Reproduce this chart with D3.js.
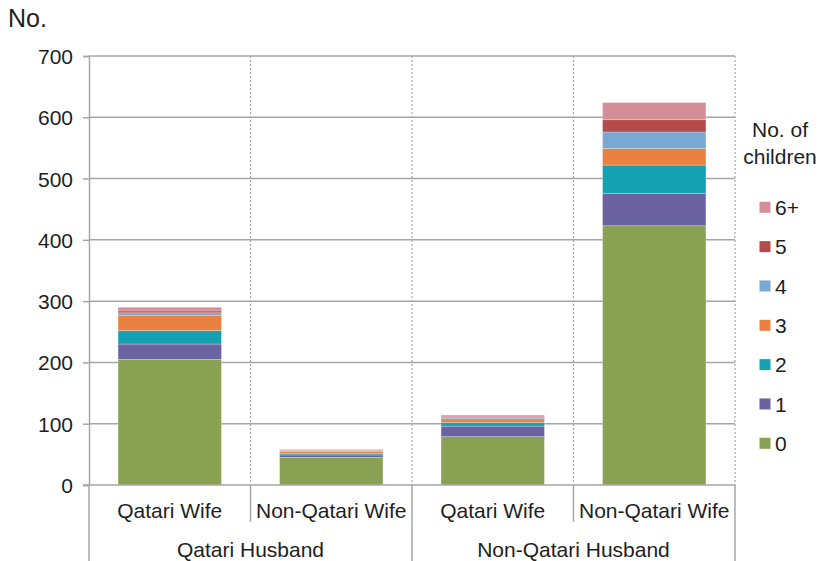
<!DOCTYPE html>
<html>
<head>
<meta charset="utf-8">
<script src="https://cdn.jsdelivr.net/npm/d3@7"></script>
<style>
  html, body { margin: 0; padding: 0; background: #fff; }
  text { font-family: "Liberation Sans", Arial, sans-serif; fill: #1e1e1e; }
</style>
</head>
<body>
<svg id="chart" width="820" height="561"></svg>
<script>
// ---- Data ----
const husbands = ["Qatari Husband", "Non-Qatari Husband"];
const wives = ["Qatari Wife", "Non-Qatari Wife"];
const categories = ["QH-QW", "QH-NQW", "NQH-QW", "NQH-NQW"];
const categoryLabels = ["Qatari Wife", "Non-Qatari Wife", "Qatari Wife", "Non-Qatari Wife"];
const seriesNames = ["0", "1", "2", "3", "4", "5", "6+"];
const children0 = [205, 45, 79, 423];
const children1 = [25, 4, 17, 53];
const children2 = [22, 2, 6, 46];
const children3 = [25, 4, 6, 27];
const children4 = [4, 1, 2, 27];
const children5 = [3, 1, 1, 20];
const children6plus = [6, 1, 3, 28];
const yTicks = [0, 100, 200, 300, 400, 500, 600, 700];
const colors = ["#89a153", "#6a639f", "#14a1b2", "#e98141", "#7ba7d3", "#b54c4b", "#d48e97"];

const seriesValues = [children0, children1, children2, children3, children4, children5, children6plus];
const table = categories.map((c, i) => {
  const row = { cat: c };
  seriesNames.forEach((s, j) => row[s] = seriesValues[j][i]);
  return row;
});

// ---- Layout ----
const svg = d3.select("#chart");
const pLeft = 89, pRight = 735, pTop = 56, pBottom = 485;
const fs = "21px";
const x = d3.scaleBand().domain(categories).range([pLeft, pRight]).paddingInner(0.36).paddingOuter(0.18);
const xb = d3.scaleBand().domain(categories).range([pLeft, pRight]).padding(0);
const y = d3.scaleLinear().domain([0, 700]).range([pBottom, pTop]);
const grey = "#a6a6a6";

// gridlines
svg.append("g").selectAll("line").data(yTicks.filter(t => t > 0)).join("line")
  .attr("x1", pLeft).attr("x2", pRight)
  .attr("y1", d => y(d)).attr("y2", d => y(d))
  .attr("stroke", grey).attr("stroke-width", 1.5);

// dotted vertical separators inside plot
const bounds = categories.slice(1).map(c => xb(c)).concat([pRight]);
svg.append("g").selectAll("line").data(bounds).join("line")
  .attr("x1", d => d).attr("x2", d => d)
  .attr("y1", pTop).attr("y2", pBottom)
  .attr("stroke", grey).attr("stroke-width", 1.2).attr("stroke-dasharray", "2,2");

// stacked bars
const stack = d3.stack().keys(seriesNames)(table);
svg.append("g").selectAll("g").data(stack).join("g")
  .attr("fill", (d, i) => colors[i])
  .selectAll("rect").data(d => d).join("rect")
  .attr("x", d => x(d.data.cat))
  .attr("width", x.bandwidth())
  .attr("y", d => y(d[1]))
  .attr("height", d => y(d[0]) - y(d[1]))
  .attr("stroke", "rgba(255,255,255,0.35)").attr("stroke-width", 0.7);

// y axis
const yAxis = d3.axisLeft(y).tickValues(yTicks).tickSize(6).tickPadding(10);
const ya = svg.append("g").attr("transform", `translate(${pLeft},0)`).call(yAxis);
ya.select(".domain").attr("stroke", grey).attr("stroke-width", 1.5);
ya.selectAll(".tick line").attr("stroke", grey).attr("stroke-width", 1.5);
ya.selectAll(".tick text").style("font-size", fs).attr("fill", "#1e1e1e")
  .style("font-family", '"Liberation Sans", Arial, sans-serif').attr("dy", "0.36em");

// x axis baseline
svg.append("line").attr("x1", pLeft - 6).attr("x2", pRight).attr("y1", pBottom).attr("y2", pBottom)
  .attr("stroke", grey).attr("stroke-width", 1.5);

// below-axis separators
const innerSeps = [xb(categories[1]), xb(categories[3])];
const outerSeps = [pLeft, xb(categories[2]), pRight];
svg.append("g").selectAll("line").data(innerSeps).join("line")
  .attr("x1", d => d).attr("x2", d => d).attr("y1", pBottom).attr("y2", 522)
  .attr("stroke", grey).attr("stroke-width", 1.5);
svg.append("g").selectAll("line").data(outerSeps).join("line")
  .attr("x1", d => d).attr("x2", d => d).attr("y1", pBottom).attr("y2", 561)
  .attr("stroke", grey).attr("stroke-width", 1.5);

// category labels
svg.append("g").selectAll("text").data(categories).join("text")
  .attr("x", d => xb(d) + xb.bandwidth() / 2).attr("y", 517.5)
  .attr("text-anchor", "middle").style("font-size", fs)
  .text((d, i) => categoryLabels[i]);

// group labels
svg.append("g").selectAll("text").data(husbands).join("text")
  .attr("x", (d, i) => xb(categories[i * 2]) + xb.bandwidth())
  .attr("y", 556.5)
  .attr("text-anchor", "middle").style("font-size", fs)
  .text(d => d);

// y title
svg.append("text").attr("x", 8).attr("y", 27).style("font-size", "25px").text("No.");

// legend
const lg = svg.append("g");
lg.append("text").attr("x", 780).attr("y", 137).attr("text-anchor", "middle").style("font-size", fs).text("No. of");
lg.append("text").attr("x", 780).attr("y", 163.5).attr("text-anchor", "middle").style("font-size", fs).text("children");
const legendOrder = seriesNames.map((s, i) => ({ s, i })).reverse();
const ly = d3.scalePoint().domain(legendOrder.map(d => d.s)).range([207.3, 443.3]);
const items = lg.selectAll("g.item").data(legendOrder).join("g").attr("class", "item")
  .attr("transform", d => `translate(0,${ly(d.s)})`);
items.append("rect").attr("x", 759.5).attr("y", -5.5).attr("width", 11).attr("height", 11)
  .attr("fill", d => colors[d.i]);
items.append("text").attr("x", 775).attr("y", 0).attr("dy", "0.36em")
  .style("font-size", fs).text(d => d.s);
</script>
</body>
</html>
